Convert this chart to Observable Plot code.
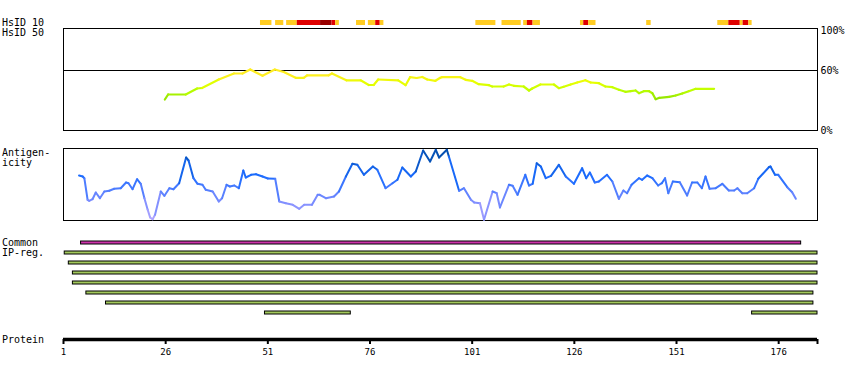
<!DOCTYPE html>
<html><head><meta charset="utf-8">
<script src="https://cdn.jsdelivr.net/npm/d3@7"></script>
<script src="https://cdn.jsdelivr.net/npm/@observablehq/plot@0.6"></script>
<style>
body{margin:0;background:#fff;}
#chart{position:relative;width:850px;height:380px;overflow:hidden;}
</style></head><body><div id="chart"></div>
<script>
// ---------- data ----------
const xDomain = [1, 185.5];
const proteinTicks = [1, 26, 51, 76, 101, 126, 151, 176];
const proteinEnd = 185.5;
const pctTicks = [0, 60, 100];
const pctThreshold = 60;

// HsID 10 identity strip (start, end residue, level 1=medium 2=high 3=very high)
const hs10Start = [49.2, 52.9, 55.6, 58.2, 63.9, 66.7, 67.6, 72.7, 75.6, 77.4, 78.5, 101.9, 108.3, 113.6, 114.5, 115.9, 127.5, 128.3, 129.5, 143.7, 161.1, 163.8, 166.6, 167.3, 168.7];
const hs10End   = [52.0, 54.9, 58.2, 63.9, 66.7, 67.6, 68.5, 74.9, 77.4, 78.5, 79.4, 106.8, 113.0, 114.5, 115.9, 117.7, 128.3, 129.5, 131.3, 144.8, 163.8, 166.6, 167.3, 168.7, 169.5];
const hs10Level = [1, 1, 1, 2, 3, 2, 1, 1, 1, 2, 1, 1, 1, 1, 2, 1, 1, 2, 1, 1, 1, 2, 1, 2, 1];

// HsID 50 identity (%) along the protein
const hs50Pos = [25.8, 26.6, 30.9, 33.7, 34.9, 39.0, 42.7, 44.8, 46.7, 49.7, 52.7, 54.9, 57.8, 59.8, 60.6, 65.9, 66.7, 70.2, 73.7, 75.7, 76.9, 78.0, 82.9, 84.7, 85.8, 87.4, 88.8, 90.0, 92.0, 93.2, 93.6, 98.1, 99.4, 101.0, 102.6, 105.1, 105.9, 108.7, 110.0, 111.2, 113.6, 114.9, 115.7, 117.7, 121.0, 122.2, 123.4, 125.1, 126.7, 128.7, 130.0, 132.0, 133.6, 135.3, 136.9, 138.5, 139.8, 141.0, 141.8, 143.0, 144.3, 145.1, 145.9, 146.8, 149.2, 150.8, 152.4, 154.0, 155.7, 160.2];
const hs50Pct = [31, 36, 36, 42, 42.5, 51, 57, 57, 61, 54.7, 61, 58.5, 52.7, 52.7, 55.2, 55.2, 57, 50.2, 50.2, 45.5, 45.5, 51, 50.2, 45.3, 53.3, 52.5, 53.5, 51, 49.7, 52.7, 53.3, 53.3, 50.7, 49.7, 46.3, 45.3, 44, 44, 46, 44.7, 44, 40, 42, 46, 46, 42.3, 43.7, 46, 48, 50.3, 48, 47.3, 44, 43.3, 40.7, 38.7, 39.3, 40, 37.3, 39.3, 39.3, 37.3, 31.3, 32.7, 33.7, 35, 37, 39.3, 41.7, 41.7];

// Antigenicity profile (relative units 0..72)
const agPos = [4.8, 5.7, 6.1, 6.9, 7.3, 8.1, 8.9, 9.9, 11.0, 12.2, 13.4, 15.0, 16.3, 16.9, 17.9, 19.0, 19.9, 20.8, 21.6, 22.2, 22.8, 23.4, 24.8, 25.7, 26.9, 27.9, 29.3, 31.0, 31.6, 32.8, 33.8, 35.0, 35.8, 37.5, 39.0, 39.8, 40.9, 41.7, 42.8, 43.9, 45.0, 45.6, 46.9, 48.1, 49.7, 51.0, 52.8, 53.8, 55.4, 57.1, 58.7, 59.9, 61.8, 63.2, 63.7, 65.2, 67.2, 68.4, 70.1, 71.7, 72.9, 74.5, 76.7, 77.8, 79.8, 81.5, 82.7, 83.9, 86.0, 87.2, 89.0, 90.7, 92.1, 92.9, 94.8, 95.3, 97.8, 99.0, 100.7, 101.5, 102.9, 103.9, 106.0, 107.0, 107.8, 110.0, 110.9, 112.1, 114.0, 114.9, 115.8, 116.8, 117.8, 119.0, 120.3, 122.2, 123.9, 125.9, 127.9, 128.9, 129.8, 131.0, 132.0, 134.0, 135.3, 136.9, 138.0, 138.9, 140.0, 141.8, 142.6, 143.8, 145.1, 146.5, 147.4, 148.2, 149.0, 150.1, 151.8, 153.6, 154.8, 156.1, 157.2, 158.1, 159.1, 160.6, 162.2, 163.8, 165.1, 165.9, 167.1, 168.3, 170.0, 171.0, 173.6, 174.0, 175.1, 175.9, 178.1, 179.3, 180.2];
const agVal = [45, 44, 42.3, 20.7, 19.7, 21.3, 28, 22.3, 29, 29.7, 31.7, 32.3, 38, 37.3, 31.3, 41.3, 36.7, 22.3, 10.7, 3, 1.3, 5.7, 29, 24.7, 32.3, 31.3, 37.3, 63, 60, 42.3, 36.7, 35.7, 30.7, 29, 19, 22.3, 35.7, 34, 35, 32.3, 50, 43, 45.7, 46.3, 44, 42, 41.7, 19, 17.3, 15.7, 11.7, 15.7, 15.7, 25.7, 25.7, 22.3, 24, 29, 44, 56.7, 55.7, 45.7, 54, 50.7, 32.3, 37.3, 40.7, 53, 44, 49, 70, 59, 70.7, 63, 70.7, 64, 29.7, 32.3, 20.7, 18, 17.3, 0.7, 29, 27.3, 13, 35.7, 34.7, 25.7, 45.7, 35, 36.7, 57.3, 54, 42.3, 44.7, 55.7, 44, 36.7, 52.3, 42.3, 48, 38, 39, 45.7, 39, 21.7, 30, 27.3, 35.7, 42.3, 40.7, 45, 42.3, 35, 37.3, 42.3, 27.3, 39, 38.3, 25, 38, 38, 32.3, 44, 31.7, 32.3, 36.7, 30, 30, 32.3, 27.3, 27.3, 32.3, 41.7, 53.3, 54, 45.7, 45.7, 33.3, 28.3, 21.7];

// Common / IP regions
const ipRow   = [0, 1, 2, 3, 4, 5, 6, 7, 7];
const ipStart = [5.3, 1.3, 2.3, 3.3, 3.3, 6.6, 11.4, 50.3, 169.5];
const ipEnd   = [181.5, 185.5, 185.5, 185.5, 185.5, 184.5, 184.5, 71.3, 185.5];
const ipKind  = ["common", "region", "region", "region", "region", "region", "region", "region", "region"];

const rowLabels = [["HsID 10", 26], ["HsID 50", 36], ["Antigen-", 156], ["icity", 166], ["Common", 246], ["IP-reg.", 256], ["Protein", 342.5]];

// ---------- drawing ----------
const chart = document.getElementById("chart");
const W = 850, ML = 63, MR = 33;
const style = {fontFamily: '"DejaVu Sans Mono", monospace', fontSize: "10px", background: "transparent", overflow: "visible", color: "black"};
function place(svg, top) {
  svg.style.position = "absolute";
  svg.style.left = "0px";
  svg.style.top = top + "px";
  svg.style.maxWidth = "none";
  chart.appendChild(svg);
}

// HsID 10
const hs10 = hs10Start.map((s, i) => ({start: s, end: hs10End[i], level: hs10Level[i]}));
place(Plot.plot({
  width: W, height: 9, marginLeft: ML, marginRight: MR, marginTop: 2, marginBottom: 2,
  x: {domain: xDomain, axis: null},
  color: {type: "ordinal", domain: [1, 2, 3], range: ["#ffcc22", "#e00000", "#990000"]},
  style,
  marks: [Plot.barX(hs10, {x1: "start", x2: "end", fill: "level"})]
}), 18);

// HsID 50
const hs50 = hs50Pos.map((p, i) => ({pos: p, pct: hs50Pct[i]}));
const hs50Segs = d3.pairs(hs50).map(([a, b]) => ({x1: a.pos, y1: a.pct, x2: b.pos, y2: b.pct, v: (a.pct + b.pct) / 2}));
place(Plot.plot({
  width: W, height: 113, marginLeft: ML, marginRight: MR, marginTop: 1, marginBottom: 10,
  x: {domain: xDomain, axis: null},
  y: {domain: [0, 102]},
  color: {type: "linear", domain: [30, 40, 48, 56], range: ["#88dd00", "#bbff00", "#e8ff00", "#ffee22"], clamp: true},
  style,
  marks: [
    Plot.frame({stroke: "black"}),
    Plot.ruleY([pctThreshold], {stroke: "black"}),
    Plot.link(hs50Segs, {x1: "x1", y1: "y1", x2: "x2", y2: "y2", stroke: "v", strokeWidth: 2.2, strokeLinecap: "round"}),
    Plot.axisY({anchor: "right", ticks: pctTicks, tickFormat: d => d + "%", tickSize: 0, tickPadding: 3, fontSize: 10})
  ]
}), 27);

// Antigenicity
const ag = agPos.map((p, i) => ({pos: p, val: agVal[i]}));
const agSegs = d3.pairs(ag).map(([a, b]) => ({x1: a.pos, y1: a.val, x2: b.pos, y2: b.val, v: (a.val + b.val) / 2}));
place(Plot.plot({
  width: W, height: 90, marginLeft: ML, marginRight: MR, marginTop: 8, marginBottom: 10,
  x: {domain: xDomain, axis: null},
  y: {domain: [0, 72], axis: null},
  color: {type: "linear", domain: [0, 20, 45, 72], range: ["#b5a8ff", "#7b8cff", "#1a6bff", "#004a9f"]},
  style,
  marks: [
    Plot.frame({stroke: "black"}),
    Plot.link(agSegs, {x1: "x1", y1: "y1", x2: "x2", y2: "y2", stroke: "v", strokeWidth: 2, strokeLinecap: "round"})
  ]
}), 140);

// Common / IP regions
const ip = ipRow.map((r, i) => ({row: r, start: ipStart[i], end: ipEnd[i], kind: ipKind[i]}));
place(Plot.plot({
  width: W, height: 86, marginLeft: ML, marginRight: MR, marginTop: 0, marginBottom: 0,
  x: {domain: xDomain, axis: null},
  y: {type: "band", domain: d3.range(8), paddingInner: 0.7, paddingOuter: 0.65, axis: null},
  color: {type: "ordinal", domain: ["common", "region"], range: ["#cc33aa", "#a3c95c"]},
  style,
  marks: [Plot.barX(ip, {x1: "start", x2: "end", y: "row", fill: "kind", stroke: "black", strokeWidth: 1})]
}), 234.3);

// Protein axis
place(Plot.plot({
  width: W, height: 35, marginLeft: ML, marginRight: MR, marginTop: 0, marginBottom: 26,
  x: {domain: xDomain},
  y: {domain: [0, 1], axis: null},
  style,
  marks: [
    Plot.ruleY([0], {stroke: "black", strokeWidth: 3.3}),
    Plot.axisX({ticks: [...proteinTicks, proteinEnd], tickFormat: d => d === proteinEnd ? "" : String(d), tickSize: 5, tickPadding: 4, strokeWidth: 2, fontSize: 9})
  ]
}), 330);

// Row labels
const lab = d3.create("svg").attr("width", W).attr("height", 380)
  .style("position", "absolute").style("left", "0px").style("top", "0px").style("overflow", "visible");
lab.selectAll("text").data(rowLabels).join("text")
  .attr("x", 2).attr("y", d => d[1]).text(d => d[0])
  .attr("font-family", '"DejaVu Sans Mono", monospace').attr("font-size", 10).attr("fill", "black");
chart.appendChild(lab.node());
</script>
</body></html>
